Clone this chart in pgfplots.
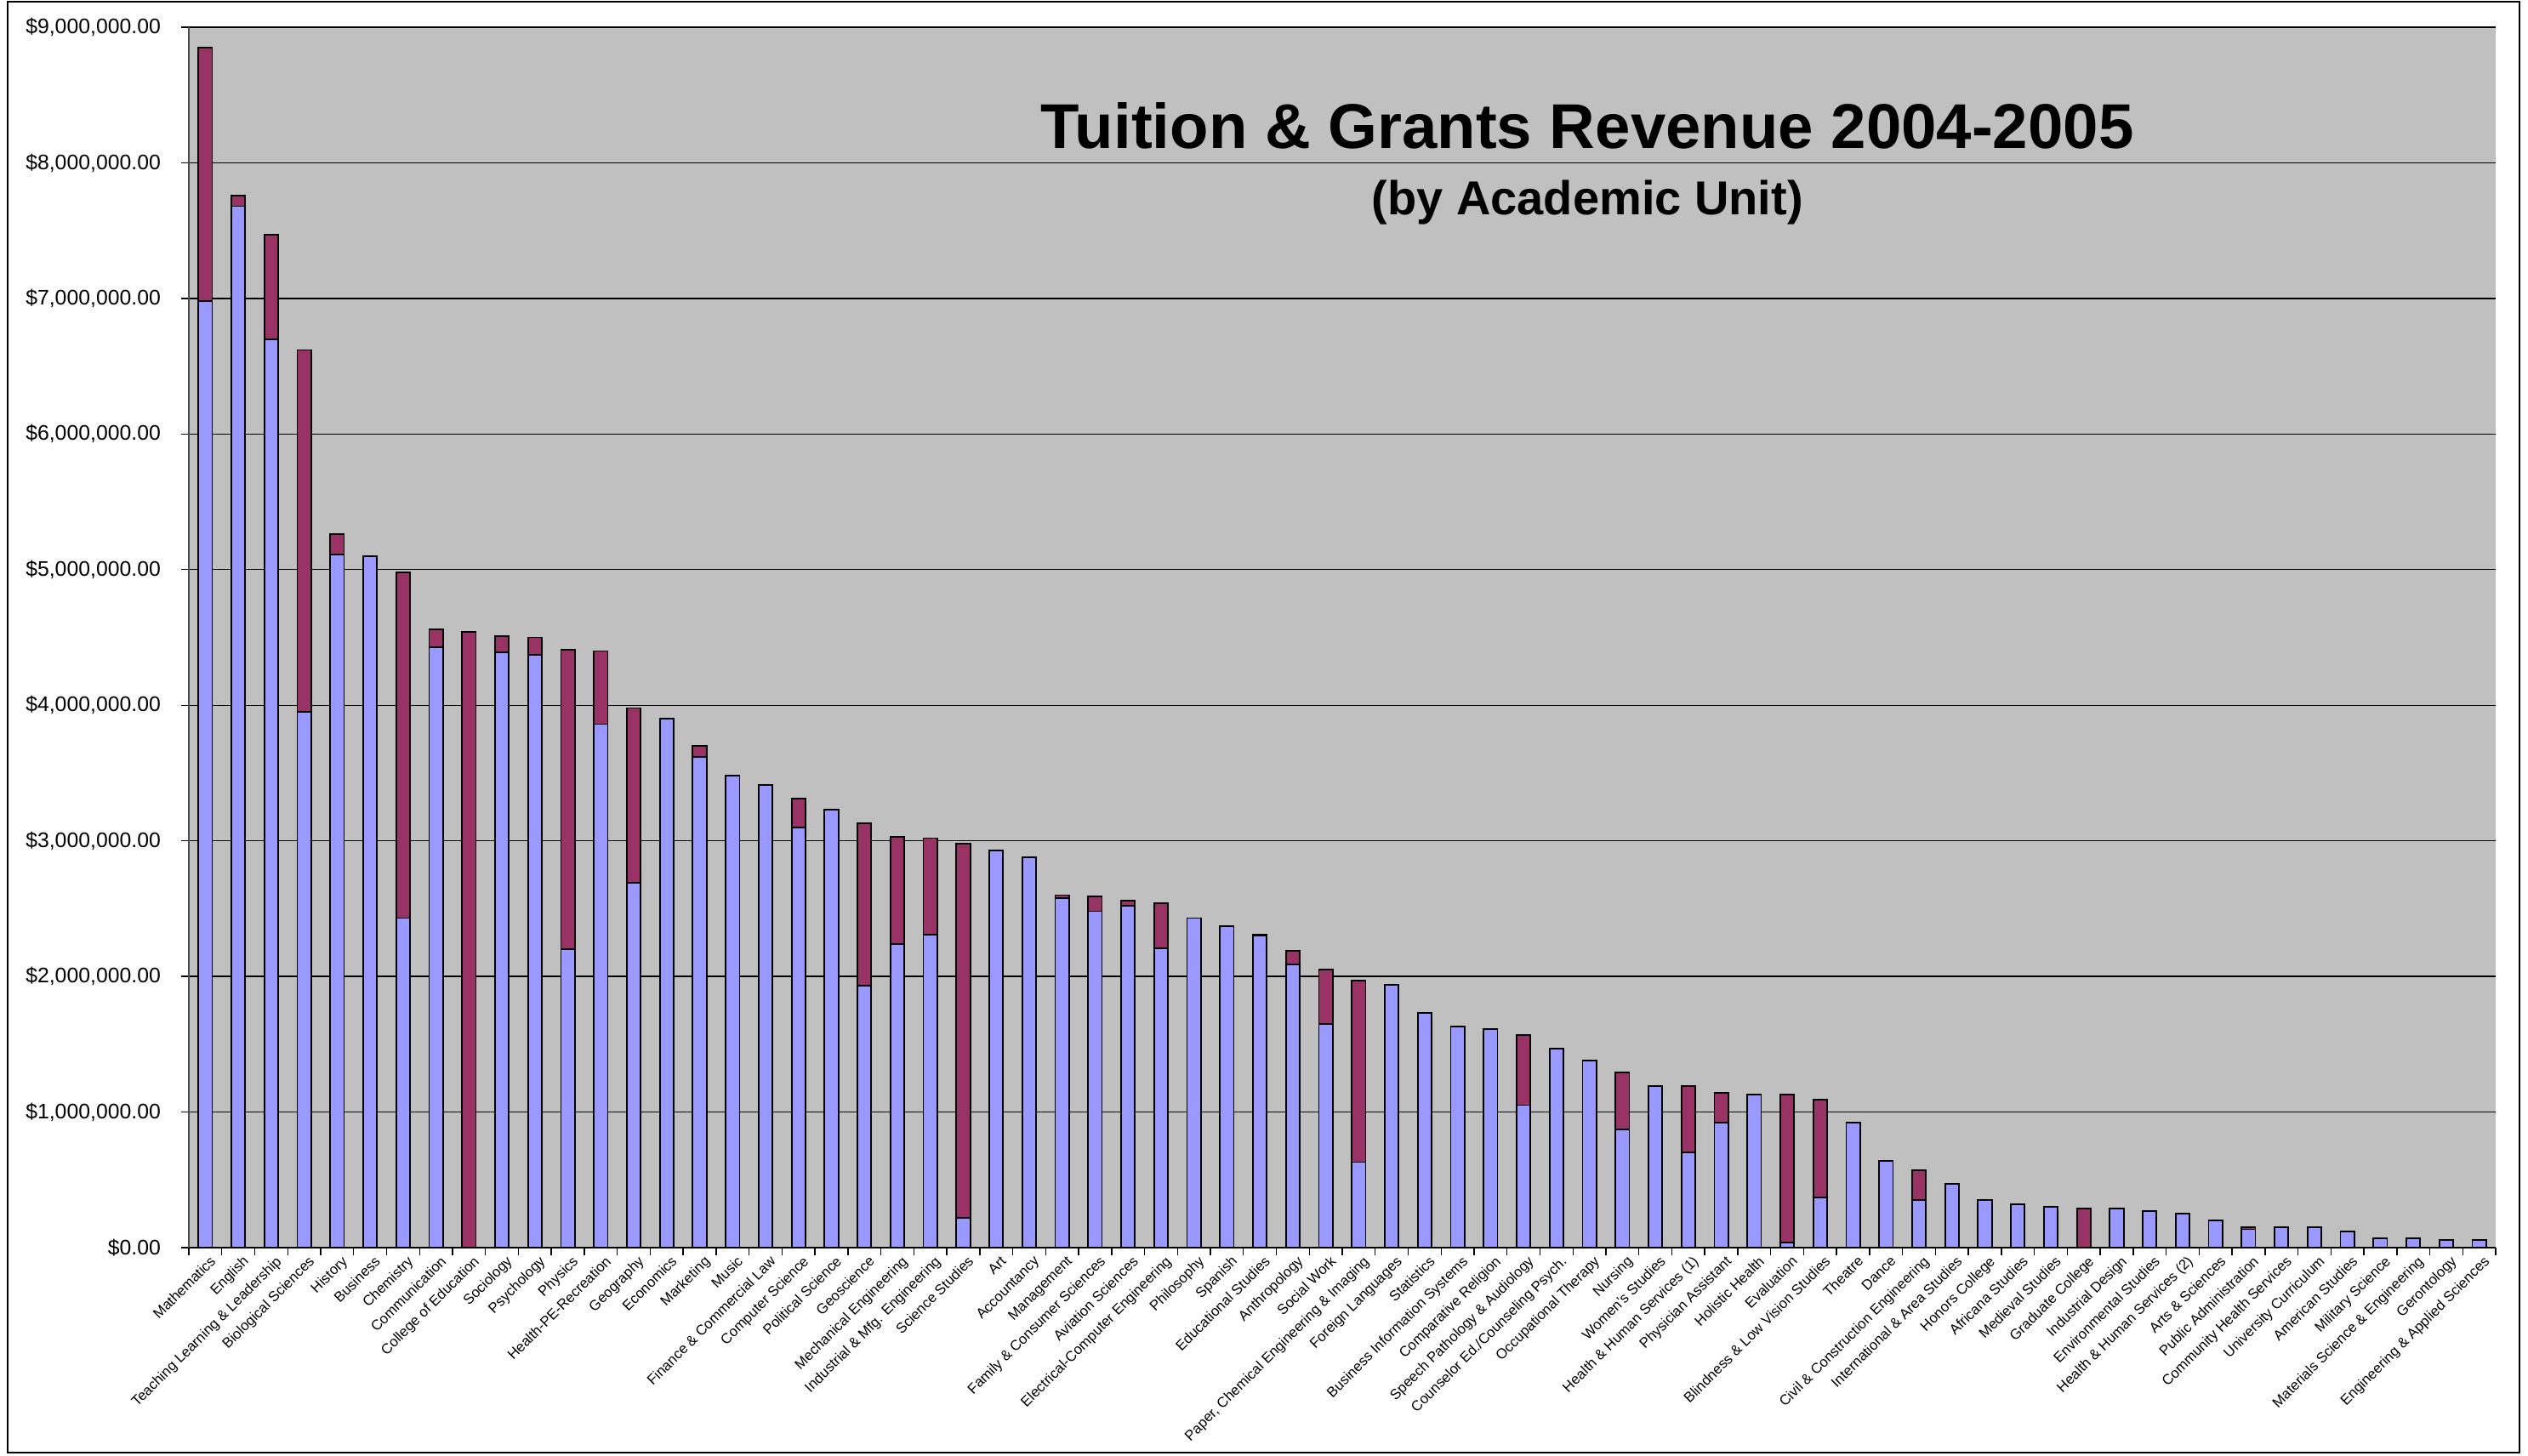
\documentclass[border=0pt]{standalone}
\usepackage{fontspec}
\setmainfont{Liberation Sans}
\usepackage{pgfplots}
\usepackage{pgfplotstable}
\pgfplotsset{compat=1.18}
\definecolor{tuitionblue}{HTML}{9999FF}
\definecolor{grantsred}{HTML}{993366}
\definecolor{plotgray}{HTML}{C0C0C0}

% idx, tuition (blue, lower), grants (maroon, upper)
\pgfplotstableread{
idx tuition grants
0  6980000 1870000
1  7680000 80000
2  6700000 770000
3  3950000 2670000
4  5110000 150000
5  5100000 0
6  2430000 2550000
7  4430000 130000
8  0       4540000
9  4390000 120000
10 4370000 130000
11 2200000 2210000
12 3860000 540000
13 2690000 1290000
14 3900000 0
15 3620000 80000
16 3480000 0
17 3410000 0
18 3100000 210000
19 3230000 0
20 1930000 1200000
21 2240000 790000
22 2310000 710000
23 220000  2760000
24 2930000 0
25 2880000 0
26 2580000 20000
27 2480000 110000
28 2520000 40000
29 2210000 330000
30 2430000 0
31 2370000 0
32 2300000 10000
33 2090000 100000
34 1650000 400000
35 630000  1340000
36 1940000 0
37 1730000 0
38 1630000 0
39 1610000 0
40 1050000 520000
41 1470000 0
42 1380000 0
43 870000  420000
44 1190000 0
45 700000  490000
46 920000  220000
47 1130000 0
48 40000   1090000
49 370000  720000
50 920000  0
51 640000  0
52 350000  220000
53 470000  0
54 350000  0
55 320000  0
56 300000  0
57 0       290000
58 290000  0
59 270000  0
60 250000  0
61 200000  0
62 135000  15000
63 150000  0
64 150000  0
65 120000  0
66 70000   0
67 70000   0
68 57000   0
69 57000   0
}\revenue

\begin{document}
\begin{tikzpicture}
\path[use as bounding box] (0,0) rectangle (743pt,427.75pt);
\draw[line width=0.5pt] (2.25pt,0.75pt) rectangle (740.5pt,427.2pt);
\begin{axis}[
  at={(55.5pt,61pt)}, anchor=south west,
  width=678pt, height=358.75pt, scale only axis,
  ybar stacked, bar width=0.42,
  xmin=-0.5, xmax=69.5, ymin=0, ymax=9000000,
  axis background/.style={fill=plotgray},
  axis x line=bottom, axis y line=left, axis line style={-},
  x axis line style={black, line width=0.5pt},
  y axis line style={black!70, line width=0.5pt},
  tick align=outside, major tick length=2.25pt,
  tick style={black, line width=0.35pt},
  scaled y ticks=false,
  ytick={0,1000000,2000000,3000000,4000000,5000000,6000000,7000000,8000000,9000000},
  yticklabels={{\$0.00},{\$1,000,000.00},{\$2,000,000.00},{\$3,000,000.00},{\$4,000,000.00},{\$5,000,000.00},{\$6,000,000.00},{\$7,000,000.00},{\$8,000,000.00},{\$9,000,000.00}},
  yticklabel style={font=\fontsize{6.2}{7}\selectfont, xshift=-2.5pt},
  ymajorgrids, grid style={black, line width=0.35pt},
  xtick={-0.5,0.5,...,69.5}, xticklabels={},
  extra x ticks={0,1,...,69},
  extra x tick style={major tick length=0pt},
  xticklabel style={font=\fontsize{4.2}{5}\selectfont, rotate=45, anchor=north east, inner sep=0.6pt, yshift=-1.5pt},
  extra x tick labels={{Mathematics},{English},{Teaching Learning \& Leadership},{Biological Sciences},{History},{Business},{Chemistry},{Communication},{College of Education},{Sociology},{Psychology},{Physics},{Health-PE-Recreation},{Geography},{Economics},{Marketing},{Music},{Finance \& Commercial Law},{Computer Science},{Political Science},{Geoscience},{Mechanical Engineering},{Industrial \& Mfg. Engineering},{Science Studies},{Art},{Accountancy},{Management},{Family \& Consumer Sciences},{Aviation Sciences},{Electrical-Computer Engineering},{Philosophy},{Spanish},{Educational Studies},{Anthropology},{Social Work},{Paper, Chemical Engineering \& Imaging},{Foreign Languages},{Statistics},{Business Information Systems},{Comparative Religion},{Speech Pathology \& Audiology},{Counselor Ed./Counseling Psych.},{Occupational Therapy},{Nursing},{Women's Studies},{Health \& Human Services (1)},{Physician Assistant},{Holistic Health},{Evaluation},{Blindness \& Low Vision Studies},{Theatre},{Dance},{Civil \& Construction Engineering},{International \& Area Studies},{Honors College},{Africana Studies},{Medieval Studies},{Graduate College},{Industrial Design},{Environmental Studies},{Health \& Human Services (2)},{Arts \& Sciences},{Public Administration},{Community Health Services},{University Curriculum},{American Studies},{Military Science},{Materials Science \& Engineering},{Gerontology},{Engineering \& Applied Sciences}},
]
\addplot[fill=tuitionblue, draw=black, line width=0.45pt] table[x=idx, y=tuition] {\revenue};
\addplot[fill=grantsred, draw=black, line width=0.45pt] table[x=idx, y=grants] {\revenue};
\node[anchor=base, font=\bfseries\fontsize{18.6}{20}\selectfont] at (axis cs:41.94,8105000) {Tuition \& Grants Revenue 2004-2005};
\node[anchor=base, font=\bfseries\fontsize{14}{16}\selectfont] at (axis cs:41.94,7620000) {(by Academic Unit)};
\end{axis}
\end{tikzpicture}
\end{document}
